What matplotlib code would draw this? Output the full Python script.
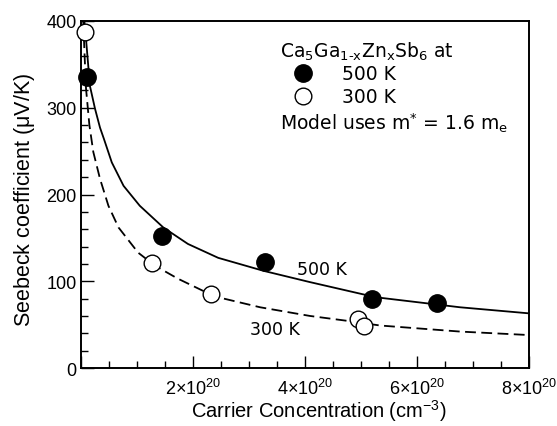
import matplotlib
matplotlib.use("Agg")
import matplotlib.pyplot as plt
from matplotlib.ticker import MultipleLocator, FuncFormatter

plt.rcParams['font.family'] = ['Liberation Sans', 'DejaVu Sans']
plt.rcParams['mathtext.fontset'] = 'custom'
plt.rcParams['mathtext.rm'] = 'Liberation Sans'
plt.rcParams['mathtext.it'] = 'Liberation Sans:italic'

# carrier concentration in units of 1e20 cm^-3
n_500 = [0.11, 1.45, 3.29, 5.19, 6.36]
s_500 = [335, 152, 122, 80, 75]
n_300 = [0.077, 1.27, 2.32, 4.95, 5.05]
s_300 = [387, 121, 85, 56, 48]

# model curves
model_500_n = [0.06, 0.09, 0.16, 0.25, 0.34, 0.41, 0.55, 0.76, 1.05, 1.47,
               1.91, 2.45, 3.26, 4.09, 5.10, 5.34, 6.77, 8.0]
model_500_s = [400, 379, 325, 299, 277, 264, 237, 210, 187, 162,
               143, 127, 112, 99, 84, 81, 70, 63]
model_300_n = [0.04, 0.066, 0.09, 0.15, 0.22, 0.34, 0.49, 0.67, 1.02, 1.32,
               1.73, 2.21, 2.42, 3.20, 4.09, 4.80, 5.34, 6.77, 8.0]
model_300_s = [400, 358, 322, 280, 249, 218, 187, 162, 133, 118,
               103, 88, 82, 70, 60, 54, 49, 42, 38]

fig = plt.figure(figsize=(5.57, 4.27), dpi=100)
ax = fig.add_axes([0.1454, 0.1358, 0.8043, 0.8127])

ax.plot(model_500_n, model_500_s, color='black', lw=1.3)
ax.plot(model_300_n, model_300_s, color='black', lw=1.3, dashes=(6, 3))
ax.plot(n_500, s_500, 'o', ms=12.5, mfc='black', mec='black', clip_on=False, zorder=5)
ax.plot(n_300, s_300, 'o', ms=12, mfc='white', mec='black', mew=1.0, clip_on=False, zorder=5)

ax.set_xlim(0, 8)
ax.set_ylim(0, 400)
ax.xaxis.set_major_locator(MultipleLocator(2))
ax.xaxis.set_minor_locator(MultipleLocator(0.5))
ax.yaxis.set_major_locator(MultipleLocator(100))
ax.yaxis.set_minor_locator(MultipleLocator(20))
ax.xaxis.set_major_formatter(FuncFormatter(
    lambda v, p: '' if v == 0 else r'$\mathregular{%d{\times}10^{20}}$' % v))
ax.tick_params(which='both', direction='in', labelsize=13, top=False, right=False)
ax.tick_params(which='major', length=9, width=1)
ax.tick_params(which='minor', length=5, width=1)
ax.tick_params(axis='x', pad=7)
ax.tick_params(axis='y', pad=3)
for sp in ax.spines.values():
    sp.set_linewidth(1.4)

ax.set_xlabel(r'Carrier Concentration (cm$^{\mathregular{-3}}$)', fontsize=14.5, va='bottom')
ax.xaxis.set_label_coords(0.532, -0.158)
ax.set_ylabel(r'Seebeck coefficient ($\mathregular{\mu}$V/K)', fontsize=15.5)
ax.yaxis.set_label_coords(-0.098, 0.487)

tf = dict(family=['DejaVu Sans'], fontsize=12.5)
ax.text(3.85, 114, '500 K', va='center', ha='left', **tf)
ax.text(3.02, 45, '300 K', va='center', ha='left', **tf)

lf = dict(family=['DejaVu Sans'], fontsize=13.5)
ax.text(3.55, 367, 'Ca$_\\mathregular{5}$Ga$_\\mathregular{1\u2010x}$Zn$_\\mathregular{x}$Sb$_\\mathregular{6}$ at',
        va='center', ha='left', **lf)
ax.plot([3.96], [340], 'o', ms=12.5, mfc='black', mec='black')
ax.plot([3.96], [313], 'o', ms=12, mfc='white', mec='black', mew=1.0)
ax.text(4.66, 340, '500 K', va='center', ha='left', **lf)
ax.text(4.66, 313, '300 K', va='center', ha='left', **lf)
ax.text(3.55, 283, r'Model uses m$^\mathregular{*}$ = 1.6 m$_\mathregular{e}$',
        va='center', ha='left', **lf)

fig.savefig('out.png', dpi=100)
